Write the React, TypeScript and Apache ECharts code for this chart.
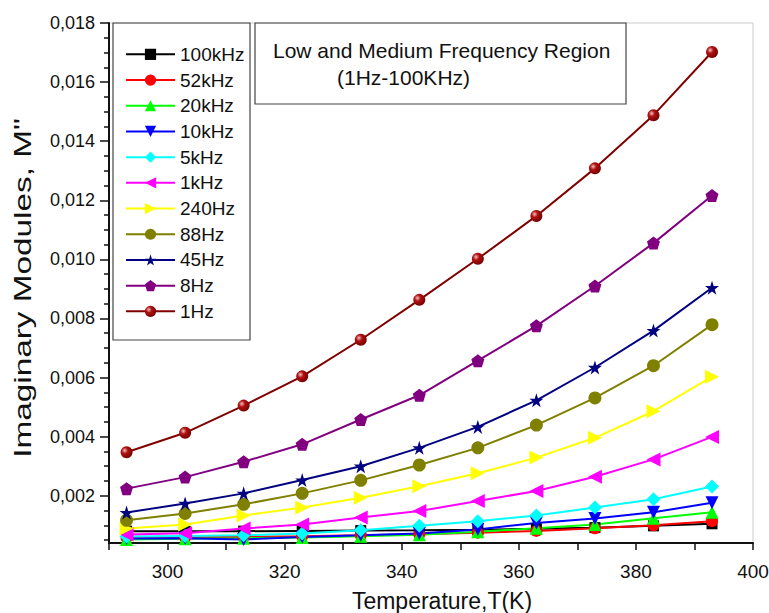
import React, { useEffect, useRef } from "react";
import * as echarts from "echarts";

const temperatures = [293, 303, 313, 323, 333, 343, 353, 363, 373, 383, 393];

const m100kHz = [0.0008, 0.0008, 0.0008, 0.00081, 0.00082, 0.00083, 0.00085, 0.00088, 0.00092, 0.00098, 0.00105];
const m52kHz = [0.00058, 0.00059, 0.00061, 0.00063, 0.00066, 0.0007, 0.00075, 0.00081, 0.0009, 0.001, 0.00114];
const m20kHz = [0.00052, 0.00054, 0.00056, 0.00059, 0.00063, 0.00068, 0.00078, 0.0009, 0.00103, 0.00124, 0.00144];
const m10kHz = [0.00055, 0.00056, 0.00052, 0.0006, 0.00066, 0.00072, 0.00086, 0.00108, 0.00123, 0.00144, 0.00176];
const m5kHz = [0.00062, 0.00064, 0.00066, 0.00072, 0.00083, 0.00098, 0.00114, 0.00133, 0.0016, 0.00188, 0.00231];
const m1kHz = [0.00069, 0.00073, 0.00089, 0.00103, 0.00126, 0.00148, 0.00182, 0.00216, 0.00264, 0.00323, 0.00399];
const m240Hz = [0.00089, 0.00103, 0.00133, 0.0016, 0.00193, 0.00232, 0.00276, 0.00329, 0.00396, 0.00486, 0.00603];
const m88Hz = [0.00117, 0.0014, 0.00171, 0.00208, 0.00252, 0.00304, 0.00362, 0.00439, 0.00531, 0.0064, 0.00779];
const m45Hz = [0.00143, 0.00174, 0.00208, 0.00253, 0.003, 0.00362, 0.00433, 0.00523, 0.00634, 0.00759, 0.00904];
const m8Hz = [0.00224, 0.00263, 0.00315, 0.00374, 0.00458, 0.0054, 0.00657, 0.00775, 0.0091, 0.01055, 0.01216];
const m1Hz = [0.00347, 0.00413, 0.00505, 0.00604, 0.00728, 0.00863, 0.01002, 0.01147, 0.01308, 0.01488, 0.01702];

const yMajorTicks = [0.002, 0.004, 0.006, 0.008, 0.01, 0.012, 0.014, 0.016, 0.018];
const yMinorTicks = [
  0.0005, 0.001, 0.0015, 0.0025, 0.003, 0.0035, 0.0045, 0.005, 0.0055, 0.0065, 0.007, 0.0075,
  0.0085, 0.009, 0.0095, 0.0105, 0.011, 0.0115, 0.0125, 0.013, 0.0135, 0.0145, 0.015, 0.0155,
  0.0165, 0.017, 0.0175,
];
const xTicks = [290, 300, 310, 320, 330, 340, 350, 360, 370, 380, 390, 400];
const xLabels = [300, 320, 340, 360, 380, 400];

const titleLine1 = "Low and Medium Frequency Region";
const titleLine2 = "(1Hz-100KHz)";
const xName = "Temperature,T(K)";
const yName = 'Imaginary Modules, M"';

const FONT = '"Liberation Sans", Arial, Helvetica, sans-serif';

const PENTAGON = "path://M0,-1L0.951,-0.309L0.588,0.809L-0.588,0.809L-0.951,-0.309Z";
const STAR =
  "path://M0,-1L0.2245,-0.309L0.951,-0.309L0.3633,0.118L0.5878,0.809L0,0.382L-0.5878,0.809L-0.3633,0.118L-0.951,-0.309L-0.2245,-0.309Z";

function mk(
  name: string,
  values: number[],
  color: string,
  symbol: string,
  size: number,
  rotate: number = 0,
  itemColor?: any
) {
  return {
    name,
    type: "line",
    xAxisIndex: 0,
    yAxisIndex: 0,
    data: temperatures.map((t, i) => [t, values[i]]),
    symbol,
    symbolSize: size,
    symbolRotate: rotate,
    showAllSymbol: true,
    lineStyle: { color, width: 2 },
    itemStyle: { color: itemColor || color, opacity: 1 },
    emphasis: { disabled: true },
  };
}

export default function App() {
  const ref = useRef<HTMLDivElement>(null);

  useEffect(() => {
    if (!ref.current) return;
    const chart = echarts.init(ref.current, null, { renderer: "svg" });

    const ballRed = {
      type: "radial",
      x: 0.35,
      y: 0.35,
      r: 0.75,
      colorStops: [
        { offset: 0, color: "#f4c0c0" },
        { offset: 0.35, color: "#b01010" },
        { offset: 1, color: "#6a0000" },
      ],
    };

    const series = [
      mk("100kHz", m100kHz, "#000000", "rect", 11),
      mk("52kHz", m52kHz, "#ff0000", "circle", 12),
      mk("20kHz", m20kHz, "#00ff00", "triangle", 13),
      mk("10kHz", m10kHz, "#0000ff", "triangle", 13, 180),
      mk("5kHz", m5kHz, "#00ffff", "diamond", 14),
      mk("1kHz", m1kHz, "#ff00ff", "triangle", 14, 90),
      mk("240Hz", m240Hz, "#ffff00", "triangle", 14, -90),
      mk("88Hz", m88Hz, "#808000", "circle", 13),
      mk("45Hz", m45Hz, "#000080", STAR, 14),
      mk("8Hz", m8Hz, "#800080", PENTAGON, 13),
      mk("1Hz", m1Hz, "#800000", "circle", 12, 0, ballRed),
    ];

    const option: any = {
      animation: false,
      backgroundColor: "#ffffff",
      textStyle: { fontFamily: FONT },
      grid: {
        left: 109,
        right: 16,
        top: 23,
        bottom: 70,
        containLabel: false,
        outerBoundsMode: "none",
        show: true,
        borderColor: "#cccccc",
        borderWidth: 1,
        backgroundColor: "transparent",
      },
      xAxis: [
        {
          type: "value",
          min: 290,
          max: 400,
          name: xName,
          nameLocation: "middle",
          nameGap: 46,
          nameTextStyle: { fontSize: 23, color: "#111", fontFamily: FONT, padding: [0, 0, 0, 22] },
          axisLine: { show: true, onZero: false, lineStyle: { color: "#111", width: 2 } },
          axisTick: { show: true, inside: false, length: 7, customValues: xTicks, lineStyle: { color: "#111", width: 1.5 } },
          axisLabel: {
            show: true,
            customValues: xLabels,
            margin: 19,
            fontSize: 19,
            color: "#111",
            fontFamily: FONT,
          },
          splitLine: { show: false },
        },
      ],
      yAxis: [
        {
          type: "value",
          min: 0.0004,
          max: 0.018,
          position: "left",
          axisLine: { show: true, onZero: false, lineStyle: { color: "#111", width: 2 } },
          axisTick: { show: true, inside: false, length: 9, customValues: yMajorTicks, lineStyle: { color: "#111", width: 1.5 } },
          axisLabel: {
            show: true,
            customValues: yMajorTicks,
            margin: 14,
            fontSize: 18,
            color: "#111",
            fontFamily: FONT,
            formatter: (v: number) => v.toFixed(3).replace(".", ","),
          },
          splitLine: { show: false },
        },
        {
          type: "value",
          min: 0.0004,
          max: 0.018,
          position: "left",
          axisLine: { show: false },
          axisTick: { show: true, inside: false, length: 5, customValues: yMinorTicks, lineStyle: { color: "#111", width: 1.5 } },
          axisLabel: { show: false },
          splitLine: { show: false },
        },
      ],
      legend: {
        orient: "vertical",
        left: 125,
        top: 44,
        padding: 0,
        itemWidth: 49,
        itemHeight: 14,
        itemGap: 5,
        selectedMode: false,
        textStyle: { fontSize: 19, color: "#111", fontFamily: FONT, lineHeight: 20.7 },
        data: series.map((s) => s.name),
      },
      graphic: [
        {
          type: "rect",
          z: 1,
          shape: { x: 113, y: 23, width: 137, height: 317 },
          style: { fill: "none", stroke: "#444", lineWidth: 1.2 },
        },
        {
          type: "rect",
          z: 1,
          shape: { x: 255, y: 23, width: 371, height: 81 },
          style: { fill: "none", stroke: "#444", lineWidth: 1.2 },
        },
        {
          type: "text",
          z: 5,
          x: 273,
          y: 50,
          style: { text: titleLine1, font: `21px ${FONT}`, fill: "#111", align: "left", verticalAlign: "middle" },
        },
        {
          type: "text",
          z: 5,
          x: 337,
          y: 77,
          style: { text: titleLine2, font: `21px ${FONT}`, fill: "#111", align: "left", verticalAlign: "middle" },
        },
        {
          type: "text",
          z: 5,
          x: 23,
          y: 288,
          rotation: Math.PI / 2,
          scaleX: 1.45,
          scaleY: 1,
          style: { text: yName, font: `23px ${FONT}`, fill: "#111", align: "center", verticalAlign: "middle" },
        },
      ],
      series,
    };

    chart.setOption(option);
    return () => chart.dispose();
  }, []);

  return (
    <div
      ref={ref}
      style={{ position: "fixed", left: 0, top: 0, width: 769, height: 613, background: "#fff" }}
    />
  );
}
